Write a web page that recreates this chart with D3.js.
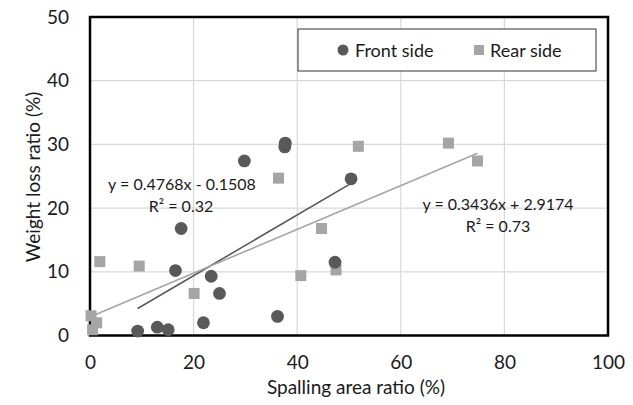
<!DOCTYPE html>
<html><head><meta charset="utf-8">
<script src="https://cdn.jsdelivr.net/npm/d3@7"></script>
<style>body{margin:0;background:#fff}svg{display:block}text{font-family:Lato,"Open Sans",sans-serif;fill:#1a1a1a}</style>
</head><body><svg id="c" width="633" height="405"></svg>
<script>
const frontX=[9.2,13.0,15.1,16.5,17.6,21.9,23.4,25.0,29.8,37.7,37.6,36.2,47.3,50.4];
const frontY=[0.7,1.3,0.9,10.2,16.8,2.0,9.3,6.6,27.4,30.2,29.6,3.0,11.5,24.6];
const rearX=[0.2,1.3,0.5,1.9,9.5,20.1,36.4,40.7,44.7,47.5,51.8,69.2,74.8];
const rearY=[3.1,2.0,0.9,11.6,10.9,6.6,24.7,9.4,16.8,10.3,29.7,30.2,27.4];
const xTicks=[0,20,40,60,80,100];
const yTicks=[0,10,20,30,40,50];
const frontFit={slope:0.4768,intercept:-0.1508,label:"y = 0.4768x - 0.1508",r2:"R² = 0.32"};
const rearFit={slope:0.3436,intercept:2.9174,label:"y = 0.3436x + 2.9174",r2:"R² = 0.73"};
const seriesNames=["Front side","Rear side"];

const svg=d3.select("#c");
const L=90,R=608,T=17,B=335.5;
const x=d3.scaleLinear().domain([0,100]).range([L,R]);
const y=d3.scaleLinear().domain([0,50]).range([B,T]);
const cFront="#595959", cRear="#a5a5a5";

// grid
svg.append("g").selectAll("line").data(xTicks.slice(1,-1)).join("line")
 .attr("x1",d=>x(d)).attr("x2",d=>x(d)).attr("y1",T).attr("y2",B)
 .attr("stroke","#d9d9d9").attr("stroke-width",1.2);
svg.append("g").selectAll("line").data(yTicks.slice(1,-1)).join("line")
 .attr("y1",d=>y(d)).attr("y2",d=>y(d)).attr("x1",L).attr("x2",R)
 .attr("stroke","#d9d9d9").attr("stroke-width",1.2);

// axes (labels only)
const xa=svg.append("g").attr("transform",`translate(0,${B})`).call(d3.axisBottom(x).tickValues(xTicks).tickSize(0).tickPadding(20));
xa.select(".domain").remove();
xa.selectAll("text").style("font-size","19px").attr("fill","#1a1a1a");
const ya=svg.append("g").attr("transform",`translate(${L},0)`).call(d3.axisLeft(y).tickValues(yTicks).tickSize(0).tickPadding(21));
ya.select(".domain").remove();
ya.selectAll("text").style("font-size","19px").attr("fill","#1a1a1a");

// frame
svg.append("rect").attr("x",L).attr("y",T).attr("width",R-L).attr("height",B-T)
 .attr("fill","none").attr("stroke","#000").attr("stroke-width",2.5);

// trend lines
function fitLine(fit,xs,col){
  const x0=d3.min(xs),x1=d3.max(xs);
  svg.append("line").attr("x1",x(x0)).attr("y1",y(fit.slope*x0+fit.intercept))
   .attr("x2",x(x1)).attr("y2",y(fit.slope*x1+fit.intercept))
   .attr("stroke",col).attr("stroke-width",1.6);
}
fitLine(frontFit,frontX,cFront);
fitLine(rearFit,rearX,cRear);

// points
svg.append("g").selectAll("rect").data(rearX.map((v,i)=>[v,rearY[i]])).join("rect")
 .attr("x",d=>x(d[0])-5.5).attr("y",d=>y(d[1])-5.5).attr("width",11).attr("height",11).attr("fill",cRear);
svg.append("g").selectAll("circle").data(frontX.map((v,i)=>[v,frontY[i]])).join("circle")
 .attr("cx",d=>x(d[0])).attr("cy",d=>y(d[1])).attr("r",6.4).attr("fill",cFront);

// equations
function eq(t,cx,cy){svg.append("text").attr("x",cx).attr("y",cy).attr("text-anchor","middle").attr("dominant-baseline","central").style("font-size","16px").text(t);}
eq(frontFit.label,182,183);
eq(frontFit.r2,181,205);
eq(rearFit.label,498,203);
eq(rearFit.r2,498,225);

// legend
svg.append("rect").attr("x",298).attr("y",29).attr("width",298).attr("height",42).attr("fill","#fff").attr("stroke","#333").attr("stroke-width",1);
svg.append("circle").attr("cx",343).attr("cy",50).attr("r",5.5).attr("fill",cFront);
svg.append("text").attr("x",355).attr("y",50).attr("dominant-baseline","central").style("font-size","18px").text(seriesNames[0]);
svg.append("rect").attr("x",474).attr("y",45).attr("width",10).attr("height",10).attr("fill",cRear);
svg.append("text").attr("x",490).attr("y",50).attr("dominant-baseline","central").style("font-size","18px").text(seriesNames[1]);

// axis titles
svg.append("text").attr("x",356).attr("y",386).attr("text-anchor","middle").attr("dominant-baseline","central").style("font-size","19px").text("Spalling area ratio (%)");
svg.append("text").attr("transform","translate(32,177) rotate(-90)").attr("text-anchor","middle").attr("dominant-baseline","central").style("font-size","19px").text("Weight loss ratio (%)");
</script></body></html>
